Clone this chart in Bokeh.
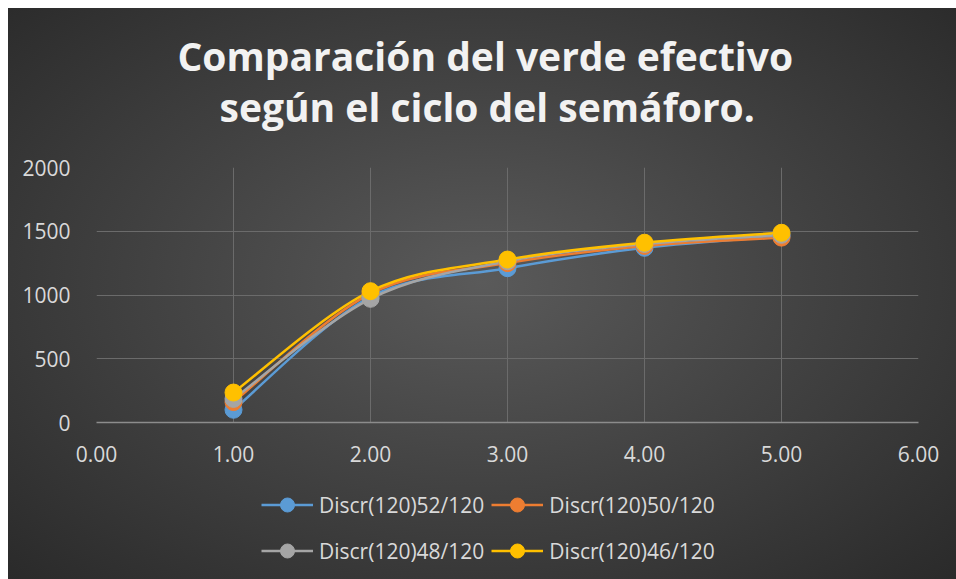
from bokeh.plotting import figure
from bokeh.layouts import column
from bokeh.models import (Range1d, FixedTicker, NumeralTickFormatter, Title,
                          Legend, LegendItem, ColumnDataSource)
from bokeh.embed import file_html
from bokeh.resources import INLINE

# ---------------- data ----------------
x_vals = [1.0, 2.0, 3.0, 4.0, 5.0]
discr_52 = [100, 985, 1210, 1370, 1460]
discr_50 = [160, 1010, 1250, 1385, 1450]
discr_48 = [185, 970, 1265, 1400, 1472]
discr_46 = [235, 1030, 1278, 1410, 1488]
series_names = ["Discr(120)52/120", "Discr(120)50/120",
                "Discr(120)48/120", "Discr(120)46/120"]
series_values = [discr_52, discr_50, discr_48, discr_46]
colors = ["#5b9bd5", "#ed7d31", "#a5a5a5", "#ffc000"]
x_ticks = [0, 1, 2, 3, 4, 5, 6]
y_ticks = [0, 500, 1000, 1500, 2000]
title_line1 = "Comparación del verde efectivo"
title_line2 = "según el ciclo del semáforo."

FONT = "Open Sans"
LABEL_COLOR = "#d9d9d9"
HAS_STANDOFF = "standoff" in Title.properties()

# ---------------- main chart ----------------
p = figure(width=948, height=470, output_backend="svg", toolbar_location=None,
           x_range=Range1d(0, 6), y_range=Range1d(0, 2000),
           min_border_left=88, min_border_right=38,
           min_border_top=159, min_border_bottom=56,
           title_location=None)
p.background_fill_alpha = 0
p.border_fill_alpha = 0
p.outline_line_color = None

p.xgrid.ticker = FixedTicker(ticks=x_ticks)
p.ygrid.ticker = FixedTicker(ticks=y_ticks)
for g in (p.xgrid, p.ygrid):
    g.grid_line_color = "#6b6b6b"
    g.grid_line_width = 1

p.xaxis.ticker = FixedTicker(ticks=x_ticks)
p.xaxis.formatter = NumeralTickFormatter(format="0.00")
p.yaxis.ticker = FixedTicker(ticks=y_ticks)
for ax in (p.xaxis, p.yaxis):
    ax.major_tick_line_color = None
    ax.minor_tick_line_color = None
    ax.major_label_text_font = FONT
    ax.major_label_text_font_size = "21px"
    ax.major_label_text_color = LABEL_COLOR
p.xaxis.major_label_standoff = 17
p.yaxis.major_label_standoff = 20
p.xaxis.axis_line_color = "#8c8c8c"
p.xaxis.axis_line_width = 1.5
p.yaxis.axis_line_color = None


def bezier_source(xs, ys):
    n = len(xs)
    d = dict(x0=[], y0=[], x1=[], y1=[], cx0=[], cy0=[], cx1=[], cy1=[])
    for i in range(n - 1):
        im1 = max(i - 1, 0)
        ip2 = min(i + 2, n - 1)
        d["x0"].append(xs[i]); d["y0"].append(ys[i])
        d["x1"].append(xs[i + 1]); d["y1"].append(ys[i + 1])
        d["cx0"].append(xs[i] + (xs[i + 1] - xs[im1]) / 6.0)
        d["cy0"].append(ys[i] + (ys[i + 1] - ys[im1]) / 6.0)
        d["cx1"].append(xs[i + 1] - (xs[ip2] - xs[i]) / 6.0)
        d["cy1"].append(ys[i + 1] - (ys[ip2] - ys[i]) / 6.0)
    return ColumnDataSource(d)


for name, vals, col in zip(series_names, series_values, colors):
    p.bezier(x0="x0", y0="y0", x1="x1", y1="y1", cx0="cx0", cy0="cy0",
             cx1="cx1", cy1="cy1", source=bezier_source(x_vals, vals),
             line_color=col, line_width=2.5)
for name, vals, col in zip(series_names, series_values, colors):
    p.scatter(x_vals, vals, size=17, fill_color=col, line_color=col)

# titles (added from the frame outward)
skw = {"standoff": 23} if HAS_STANDOFF else {}
t2kw = {"standoff": 0} if HAS_STANDOFF else {}
t1kw = {"standoff": -8} if HAS_STANDOFF else {}
spacer = Title(text=" ", text_font_size="9px", text_color="#f2f2f2", **skw)
t2 = Title(text=title_line2, align="left", offset=123, text_font=FONT,
           text_font_size="39px", text_font_style="bold", text_color="#f2f2f2", **t2kw)
t1 = Title(text=title_line1, align="left", offset=81, text_font=FONT,
           text_font_size="39px", text_font_style="bold", text_color="#f2f2f2", **t1kw)
p.add_layout(spacer, "above")
p.add_layout(t2, "above")
p.add_layout(t1, "above")

# ---------------- legend strip (same series, styles only) ----------------
lg = figure(width=948, height=101, output_backend="svg", toolbar_location=None,
            x_range=Range1d(100, 101), y_range=Range1d(-10, -9),
            x_axis_location=None, y_axis_location=None,
            min_border_left=0, min_border_right=0,
            min_border_top=0, min_border_bottom=0, title_location=None)
lg.background_fill_alpha = 0
lg.border_fill_alpha = 0
lg.outline_line_color = None
lg.grid.visible = False

legend_items = []
for name, vals, col in zip(series_names, series_values, colors):
    lr = lg.line(x_vals, vals, line_color=col, line_width=2.5)
    sr = lg.scatter(x_vals, vals, size=17, fill_color=col, line_color=col)
    legend_items.append(LegendItem(label=name, renderers=[lr, sr]))

lkw = dict(orientation="horizontal",
           glyph_width=52, glyph_height=35, label_standoff=6, spacing=7,
           padding=5, margin=0, background_fill_alpha=0,
           border_line_color=None, label_text_font=FONT,
           label_text_font_size="21px", label_text_color=LABEL_COLOR)
legend1 = Legend(items=legend_items[:2], location=(165, 57), **lkw)
legend2 = Legend(items=legend_items[2:], location=(165, 11), **lkw)
lg.add_layout(legend1, "center")
lg.add_layout(legend2, "center")

layout = column(p, lg, spacing=0)
layout.styles = {"margin": "8px 0 0 8px",
                 "background-image":
                 "radial-gradient(ellipse at 50% 48%, #5a5a5a 0%, #444444 45%, #2a2a2a 100%)"}

open("out.html", "w").write(file_html(layout, INLINE))
